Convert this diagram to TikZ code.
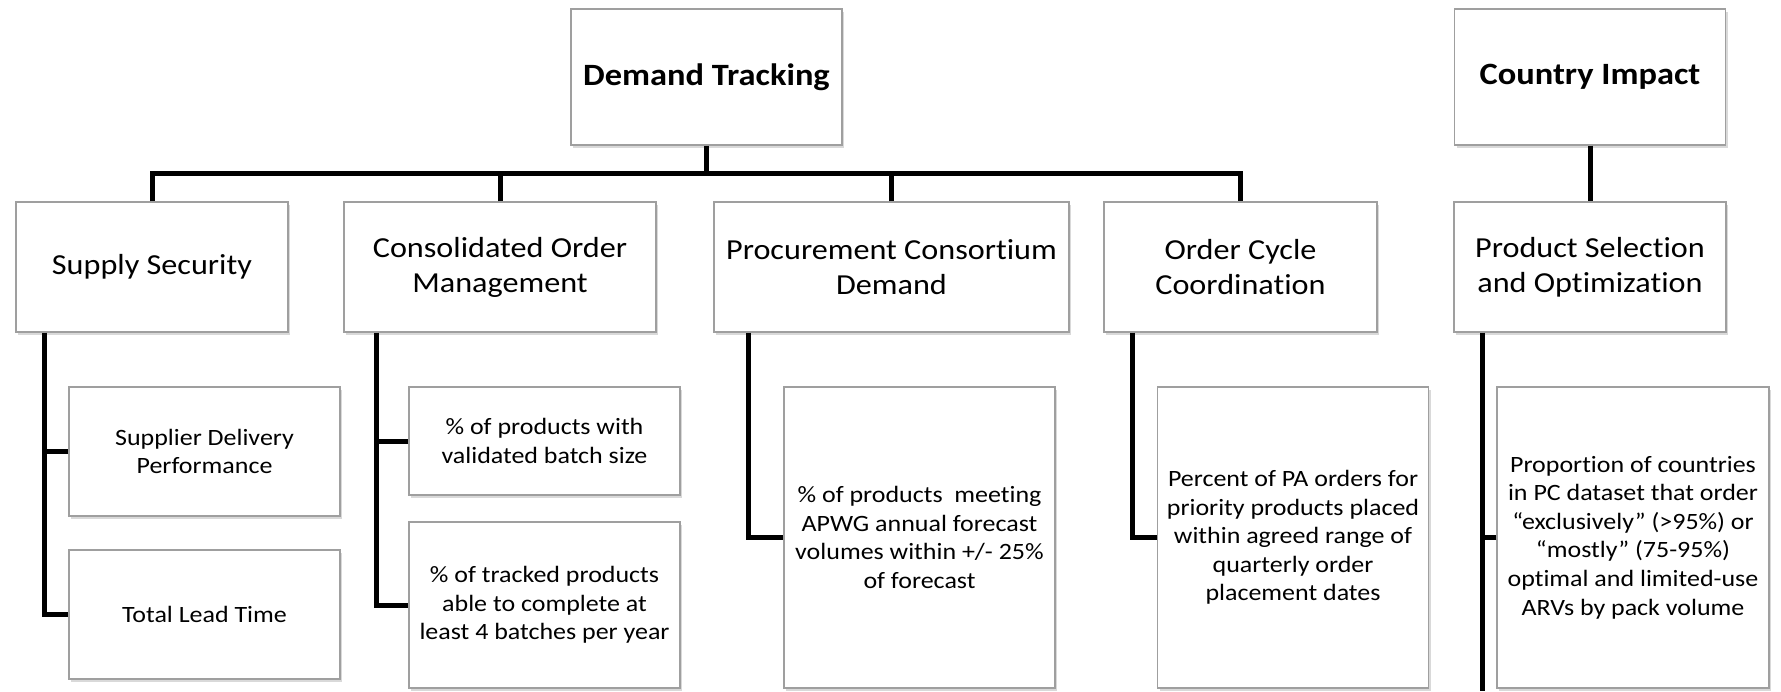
\documentclass[tikz,border=0pt]{standalone}
\usepackage{fontspec}
\setmainfont{Carlito}[FakeStretch = 1.11, Ligatures = NoCommon]
\usetikzlibrary{shadows}

\tikzset{
  box/.style = {draw = gray!75, line width = 0.6pt, fill = white, align = center,
    inner sep = 2pt,
    drop shadow = {shadow xshift = 1pt, shadow yshift = -1.6pt, opacity = 0.3, fill = gray}},
  head/.style = {box, minimum width = 135.5pt, minimum height = 68pt,
    font = \fontsize{15.5}{18.5}\selectfont\bfseries},
  group/.style = {box, minimum height = 65pt, font = \fontsize{14.5}{17.5}\selectfont},
  measure/.style = {box, minimum width = 135.5pt, font = \fontsize{11.7}{14.3}\selectfont},
  link/.style = {line width = 2.5pt}
}

\begin{document}
\begin{tikzpicture}[x = 0.5pt, y = -0.5pt]
  \useasboundingbox (0, 0) rectangle (1781, 691);

  % top level
  \node (dt) at (706.5, 77) [head] {Demand Tracking};
  \node (ci) at (1590, 77) [head] {Country Impact};

  % second level
  \node (ss)  at (152, 267)   [group, minimum width = 136pt]   {Supply Security};
  \node (com) at (500, 267)   [group, minimum width = 156pt]   {Consolidated Order\\Management};
  \node (pcd) at (891.5, 267) [group, minimum width = 177.5pt] {Procurement Consortium\\Demand};
  \node (occ) at (1240.5, 267) [group, minimum width = 136.5pt] {Order Cycle\\Coordination};
  \node (pso) at (1590, 267)  [group, minimum width = 136pt]   {Product Selection\\and Optimization};

  % measures
  \node (sdp) at (204.5, 451.5) [measure, minimum height = 64.5pt] {Supplier Delivery\\Performance};
  \node (tlt) at (204.5, 614.5) [measure, minimum height = 64.5pt] {Total Lead Time};
  \node (vbs) at (544.5, 441)   [measure, minimum height = 54pt]   {\% of products with\\validated batch size};
  \node (tpb) at (544.5, 605)   [measure, minimum height = 83pt]
    {\% of tracked products\\able to complete at\\least 4 batches per year};
  \node (pfv) at (919.5, 537.5) [measure, minimum height = 150.5pt]
    {\% of products \ meeting\\APWG annual forecast\\volumes within +/- 25\%\\of forecast};
  \node (opd) at (1293, 537.5)  [measure, minimum height = 150.5pt]
    {Percent of PA orders for\\priority products placed\\within agreed range of\\quarterly order\\placement dates};
  \node (pcv) at (1633, 537.5)  [measure, minimum width = 136pt, minimum height = 150.5pt]
    {Proportion of countries\\in PC dataset that order\\“exclusively” (>95\%) or\\“mostly” (75-95\%)\\optimal and limited-use\\ARVs by pack volume};

  % tree under demand tracking
  \coordinate (bar) at (0, 173);
  \draw [link] (dt.south) -- (dt.south |- bar);
  \draw [link] (ss.north) |- (occ.north |- bar) -- (occ.north);
  \draw [link] (com.north) -- (com.north |- bar);
  \draw [link] (pcd.north) -- (pcd.north |- bar);
  \draw [link] (ci) -- (pso);

  % measure branches
  \draw [link] ([xshift = 14.5pt]ss.south west) coordinate (s1) |- (tlt.west);
  \draw [link] (sdp.west) -- (sdp.west -| s1);
  \draw [link] ([xshift = 16.5pt]com.south west) coordinate (s2) |- (tpb.west);
  \draw [link] (vbs.west) -- (vbs.west -| s2);
  \draw [link] ([xshift = 17.5pt]pcd.south west) |- (pfv.west);
  \draw [link] ([xshift = 14.5pt]occ.south west) |- (opd.west);
  \coordinate (pend) at (1482, 691);
  \draw [link] (pso.south west -| pend) -- (pend);
  \draw [link] (pcv.west) -- (pcv.west -| pend);
\end{tikzpicture}
\end{document}
